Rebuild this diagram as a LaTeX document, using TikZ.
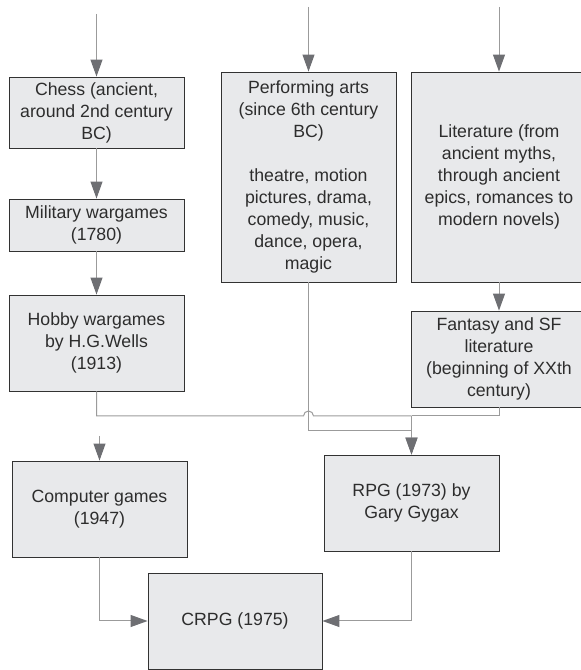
\documentclass[tikz,border=0pt]{standalone}
\usepackage{fontspec}
\setmainfont{Liberation Sans}
\usetikzlibrary{arrows.meta,positioning}
\definecolor{boxfill}{RGB}{232,233,235}
\definecolor{boxline}{RGB}{50,50,50}
\definecolor{wiregray}{RGB}{155,155,155}
\definecolor{tipgray}{RGB}{110,111,115}
\definecolor{textgray}{RGB}{45,45,45}

\begin{document}
\begin{tikzpicture}[
    x=1pt, y=1pt,
    >={Triangle[length=17pt,width=12pt,color=tipgray]},
    font=\fontsize{17.7}{22}\selectfont,
    event/.style={
		rectangle,
		draw=boxline,
		line width=0.9pt,
		fill=boxfill,
		text=textgray,
		align=center,
		inner sep=0pt,
		minimum width=175pt
	},
	wire/.style={
		draw=wiregray,
		line width=1pt,
		->
	}
  ]
  \useasboundingbox (0,0) rectangle (581,670);
    % We start by placing the blocks

  \node [event, minimum height=71pt] (chess) at (96.5,557.5)
 {Chess (ancient,\\around 2nd century\\BC)};

  \node [event, minimum height=52pt] (military) at (96.5,445)
 {Military wargames\\(1780)};

  \node [event, minimum height=96pt] (hobby) at (96.5,327)
 {Hobby wargames\\by H.G.Wells\\(1913)};

  \node [event, minimum height=210pt] (perform) at (308.5,493)
 {Performing arts\\(since 6th century\\BC)\\[22pt]theatre, motion\\pictures, drama,\\comedy, music,\\dance, opera,\\magic};

  \node [event, minimum height=210pt] (lit) at (499,493)
 {Literature (from\\ancient myths,\\through ancient\\epics, romances to\\modern novels)};

  \node [event, minimum height=96pt] (fantasy) at (499,311)
 {Fantasy and SF\\literature\\(beginning of XXth\\century)};

  \node [event, minimum height=96pt] (computer) at (99.5,161)
 {Computer games\\(1947)};

  \node [event, minimum height=96pt] (rpg) at (411.5,167)
 {RPG (1973) by\\Gary Gygax};

  \node [event, minimum width=174pt, minimum height=96pt] (crpg) at (235,49)
 {CRPG (1975)};

 % free ends and joints
 \coordinate (chessin) at (96.5,656);
 \coordinate (performin) at (308.5,663);
 \coordinate (litin) at (499,663);
 \coordinate (computerin) at (99.5,234);
 \coordinate (join) at (rpg.north |- 0,254);
 \coordinate (pjoin) at (rpg.north |- 0,239);
 \coordinate (hop) at (perform.south |- 0,254);

 \draw [wire] (chessin) -- (chess);
 \draw [wire] (performin) -- (perform);
 \draw [wire] (litin) -- (lit);
 \draw [wire] (computerin) -- (computer);
 \draw [wire] (chess) -- (military);
 \draw [wire] (military) -- (hobby);
 \draw [wire] (lit) -- (fantasy);

 \draw [wire, -] (hobby.south) |- ([xshift=-5pt]hop) arc [start angle=180, end angle=0, radius=5pt] -- (join);
 \draw [wire, -] (fantasy.south) |- (join);
 \draw [wire] (perform.south) |- (pjoin) -- (rpg.north);
 \draw [wire] (join) -- (rpg.north);

 \draw [wire] (computer.south) |- (crpg.west);
 \draw [wire] (rpg.south) |- (crpg.east);

\end{tikzpicture}
\end{document}
